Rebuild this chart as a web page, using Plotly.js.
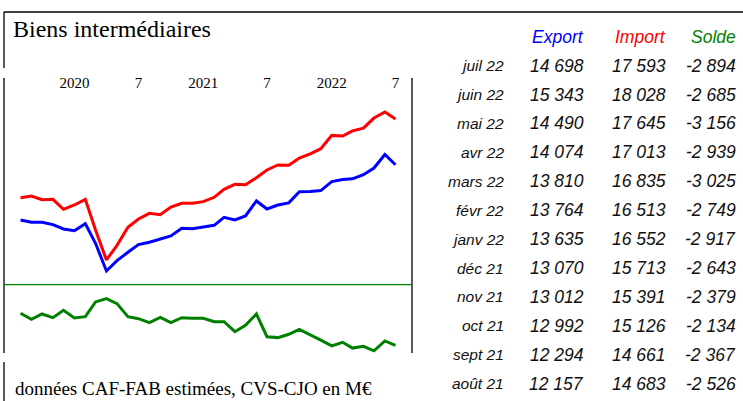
<!DOCTYPE html>
<html>
<head>
<meta charset="utf-8">
<script src="https://cdn.plot.ly/plotly-3.0.1.min.js"></script>
<style>html,body{margin:0;padding:0;background:#fff;}#chart{width:743px;height:401px;}</style>
</head>
<body>
<div id="chart"></div>
<script>
// Monthly data, Aug 2019 - Jul 2022 (M€, CVS-CJO)
const months = ['2019-08-01','2019-09-01','2019-10-01','2019-11-01','2019-12-01',
  '2020-01-01','2020-02-01','2020-03-01','2020-04-01','2020-05-01','2020-06-01','2020-07-01',
  '2020-08-01','2020-09-01','2020-10-01','2020-11-01','2020-12-01',
  '2021-01-01','2021-02-01','2021-03-01','2021-04-01','2021-05-01','2021-06-01','2021-07-01',
  '2021-08-01','2021-09-01','2021-10-01','2021-11-01','2021-12-01',
  '2022-01-01','2022-02-01','2022-03-01','2022-04-01','2022-05-01','2022-06-01','2022-07-01'];
const exportVals = [11214, 11067, 11067, 10920, 10646, 10541, 10983, 9742, 7997, 8649, 9174, 9658,
  9805, 10016, 10205, 10689, 10668, 10773, 10878, 11383, 11214, 11467, 12413, 11908,
  12157, 12294, 12992, 13012, 13070, 13635, 13764, 13810, 14074, 14490, 15343, 14698];
const importVals = [12623, 12729, 12497, 12518, 11887, 12161, 12518, 10583, 8691, 9616, 10752, 11277,
  11635, 11551, 12034, 12266, 12266, 12371, 12644, 13149, 13464, 13443, 13885, 14369,
  14683, 14661, 15126, 15391, 15713, 16552, 16513, 16835, 17013, 17645, 18028, 17593];
const soldeVals = [-1367, -1655, -1399, -1575, -1223, -1591, -1527, -824, -664, -904, -1527, -1623,
  -1814, -1559, -1814, -1575, -1607, -1607, -1766, -1766, -2245, -1942, -1399, -2485,
  -2526, -2367, -2134, -2379, -2643, -2917, -2749, -3025, -2939, -3156, -2685, -2894];

const tickDates = ['2020-01-01','2020-07-01','2021-01-01','2021-07-01','2022-01-01','2022-07-01'];
const tickLabels = ['2020','7','2021','7','2022','7'];

const tableMonths = ['juil 22','juin 22','mai 22','avr 22','mars 22','févr 22','janv 22',
  'déc 21','nov 21','oct 21','sept 21','août 21'];
const headers = ['Export','Import','Solde'];

const titleText = 'Biens intermédiaires';
const footText = 'données CAF-FAB estimées, CVS-CJO en M€';

const BLUE = '#0000ff', RED = '#ff0000', GREEN = '#008000';
const SERIF = '"Liberation Serif", "Times New Roman", serif';
const SANS = '"Liberation Sans", Arial, sans-serif';

// Pixel geometry of plot area
const W = 743, H = 401, L = 4, R = 411.7, T = 78, B = 353;
const px = x => (x - L) / (R - L);
const py = y => (B - y) / (B - T);

function fmt(v) {
  const neg = v < 0;
  let s = Math.abs(Math.round(v)).toString();
  s = s.replace(/\B(?=(\d{3})+(?!\d))/g, ' ');
  return (neg ? '-' : '') + s;
}

const traces = [
  {x: months, y: importVals, xaxis: 'x', yaxis: 'y', mode: 'lines', line: {color: RED, width: 3}, hoverinfo: 'skip'},
  {x: months, y: exportVals, xaxis: 'x', yaxis: 'y', mode: 'lines', line: {color: BLUE, width: 3}, hoverinfo: 'skip'},
  {x: months, y: soldeVals, xaxis: 'x2', yaxis: 'y2', mode: 'lines', line: {color: GREEN, width: 3}, hoverinfo: 'skip'}
];

const split = (B - 284) / (B - T);
const xr = ['2019-06-15', '2022-08-17'];

const annotations = [];
// footer
annotations.push({xref: 'paper', yref: 'paper', x: px(13), y: py(388), xanchor: 'left', yanchor: 'middle',
  text: footText, showarrow: false, font: {family: SERIF, size: 19, color: '#000'}});
// table headers
const colRight = [586, 668, 737];
const hdrColors = [BLUE, RED, GREEN];
headers.forEach((h, i) => annotations.push({xref: 'paper', yref: 'paper', x: px(colRight[i]), y: py(37),
  xanchor: 'right', yanchor: 'middle', text: h, showarrow: false,
  font: {family: SANS, size: 17.5, color: hdrColors[i], style: 'italic'}}));
// table rows, most recent first
const n = months.length;
tableMonths.forEach((m, r) => {
  const idx = n - 1 - r;
  const y = py(65.7 + 28.9 * r);
  annotations.push({xref: 'paper', yref: 'paper', x: px(506), y: y, xanchor: 'right', yanchor: 'middle',
    text: m, showarrow: false, font: {family: SANS, size: 15.5, color: '#111', style: 'italic'}});
  [exportVals[idx], importVals[idx], soldeVals[idx]].forEach((v, c) => annotations.push({
    xref: 'paper', yref: 'paper', x: px(colRight[c]), y: y, xanchor: 'right', yanchor: 'middle',
    text: fmt(v), showarrow: false, font: {family: SANS, size: 17.5, color: '#111', style: 'italic'}}));
});

const lineStyle = {color: '#000', width: 1.3};
const shapes = [
  {type: 'line', xref: 'paper', yref: 'paper', x0: px(L), x1: px(W), y0: py(12), y1: py(12), line: lineStyle},
  {type: 'line', xref: 'paper', yref: 'paper', x0: 0, x1: 0, y0: py(12), y1: py(68), line: lineStyle},
  {type: 'line', xref: 'paper', yref: 'paper', x0: 0, x1: 0, y0: py(T), y1: py(B), line: lineStyle},
  {type: 'line', xref: 'paper', yref: 'paper', x0: 0, x1: 0, y0: py(362), y1: py(H), line: lineStyle},
  {type: 'line', xref: 'paper', yref: 'paper', x0: 1, x1: 1, y0: py(T), y1: py(B), line: lineStyle},
  {type: 'line', xref: 'paper', yref: 'y2', x0: 0, x1: 1, y0: 0, y1: 0, line: {color: GREEN, width: 1.3}}
];

const layout = {
  width: W, height: H,
  margin: {l: L, r: W - R, t: T, b: H - B, pad: 0},
  paper_bgcolor: '#fff', plot_bgcolor: '#fff',
  showlegend: false,
  title: {text: titleText, xref: 'container', yref: 'container', x: 13 / W, xanchor: 'left',
    y: 1 - 29 / H, yanchor: 'middle', font: {family: SERIF, size: 24, color: '#000'}},
  xaxis: {type: 'date', range: xr, domain: [0, 1], anchor: 'y', side: 'top',
    tickmode: 'array', tickvals: tickDates, ticktext: tickLabels, ticks: '',
    ticklabelposition: 'inside', ticklabelstandoff: -4, tickfont: {family: SERIF, size: 15, color: '#000'},
    showgrid: false, zeroline: false, showline: false},
  yaxis: {domain: [split, 1], range: [7174, 20173], anchor: 'x', visible: false, showgrid: false, zeroline: false},
  xaxis2: {type: 'date', range: xr, domain: [0, 1], anchor: 'y2', matches: 'x', visible: false, showgrid: false},
  yaxis2: {domain: [0, split], range: [-3260, 30], anchor: 'x2', visible: false, showgrid: false, zeroline: false},
  annotations: annotations,
  shapes: shapes
};

Plotly.newPlot('chart', traces, layout, {staticPlot: true, displayModeBar: false});
</script>
</body>
</html>
